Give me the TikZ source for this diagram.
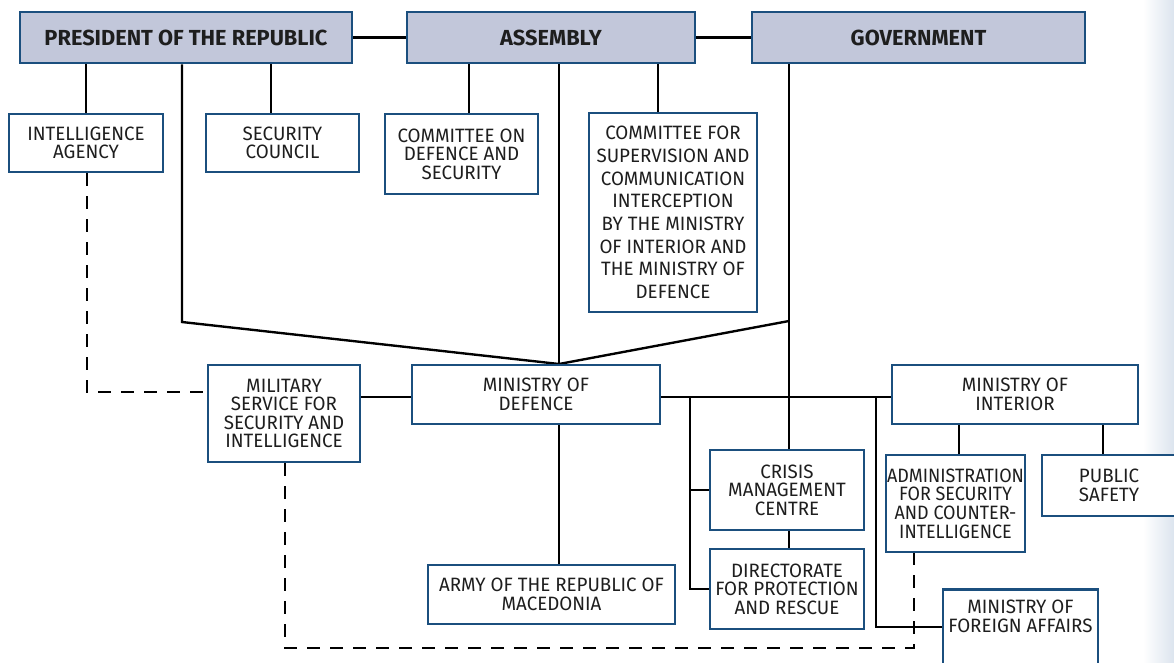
\documentclass[tikz,border=0pt]{standalone}
\usepackage{fontspec}
\setmainfont{Fira Sans}[FakeStretch=0.97]
\newfontfamily\titlefont{Fira Sans}[FakeStretch=1.0]
\newfontfamily\narrowfont{Fira Sans}[FakeStretch=0.93]
\usetikzlibrary{calc}
\pgfdeclarelayer{background}
\pgfsetlayers{background,main}
\definecolor{bordblue}{HTML}{1B4F7E}
\definecolor{topfill}{HTML}{C2C7DA}
\definecolor{txtcol}{HTML}{1E1E1E}
\definecolor{edgegray}{HTML}{DCE4EE}
\begin{document}
\begin{tikzpicture}[x=0.02cm,y=-0.02cm,
  sz/.style 2 args={minimum width=#1*0.02cm, minimum height=#2*0.02cm},
  box/.style={draw=bordblue, line width=1.6pt, fill=white, align=center, inner sep=1pt,
    font=\fontsize{11}{10.6}\selectfont, text=txtcol},
  topbox/.style={box, fill=topfill, font=\titlefont\fontsize{12.4}{13}\selectfont\bfseries},
  txt/.style={align=center, inner sep=0pt, font=\fontsize{11}{10.6}\selectfont, text=txtcol},
  conn/.style={line width=1.35pt, black},
  dconn/.style={conn, dash pattern=on 0.25cm off 0.21cm}]
\useasboundingbox (0,0) rectangle (1174,663);
% boxes
\node[topbox, sz={332}{51}] (pres) at (186,37.5) {PRESIDENT OF THE REPUBLIC};
\node[topbox, sz={288}{51}] (asm) at (551,37.5) {ASSEMBLY};
\node[topbox, sz={333}{51}] (gov) at (918.5,37.5) {GOVERNMENT};
\node[box, sz={154}{58}] (intel) at (86,143) {INTELLIGENCE\\AGENCY};
\node[box, sz={153}{58}] (sec) at (282.5,143) {SECURITY\\COUNCIL};
\node[box, sz={153}{80}] (comdef) at (461.5,154) {COMMITTEE ON\\DEFENCE AND\\SECURITY};
\node[box, sz={168}{199}, font=\fontsize{11}{12.9}\selectfont] (comsup) at (673,212.5)
  {COMMITTEE FOR\\SUPERVISION AND\\COMMUNICATION\\INTERCEPTION\\BY THE MINISTRY\\OF INTERIOR AND\\THE MINISTRY OF\\DEFENCE};
\node[box, sz={152}{97}] (mssi) at (284,413.5) {MILITARY\\SERVICE FOR\\SECURITY AND\\INTELLIGENCE};
\node[box, sz={248}{59}] (mod) at (536,394.5) {MINISTRY OF\\DEFENCE};
\node[box, sz={246}{59}] (moi) at (1015,394.5) {MINISTRY OF\\INTERIOR};
\node[box, sz={154}{80}] (crisis) at (787,490) {CRISIS\\MANAGEMENT\\CENTRE};
\node[box, sz={154}{80}] (dir) at (787,589) {DIRECTORATE\\FOR PROTECTION\\AND RESCUE};
\node[box, sz={139}{97}, inner sep=0pt, font=\narrowfont\fontsize{11}{10.6}\selectfont] (admin) at (955.5,503.5) {ADMINISTRATION\\FOR SECURITY\\AND COUNTER-\\INTELLIGENCE};
\node[box, sz={134}{61}] (pub) at (1109,485.5) {PUBLIC\\SAFETY};
\node[box, sz={247}{59}] (army) at (551.5,594.5) {ARMY OF THE REPUBLIC OF\\MACEDONIA};
\node[box, sz={155}{112}, anchor=north] (mfa) at (1020.5,588) {};
\node[txt] (mfat) at (1020.5,616.5) {MINISTRY OF\\FOREIGN AFFAIRS};
% connectors
\begin{pgfonlayer}{background}
\fill[white] (0,0) rectangle (1174,663);
\shade[left color=white, right color=edgegray] (1143,0) rectangle (1174,663);
\coordinate (jn) at (559,364);
\coordinate (pk) at (182,322);
\coordinate (gk) at (789,321);
\coordinate (b1) at (690,397);
\coordinate (b2) at (876,397);
\draw[conn] (pres.east) -- (asm.west);
\draw[conn] (asm.east) -- (gov.west);
\draw[conn] (pres.south -| intel.north) -- (intel.north);
\draw[conn] (pres.south -| 271,0) -- (sec.north -| 271,0);
\draw[conn] (asm.south -| 469,0) -- (comdef.north -| 469,0);
\draw[conn] (asm.south -| 658,0) -- (comsup.north -| 658,0);
\draw[conn] (pres.south -| pk) -- (pk) -- (jn);
\draw[conn] (asm.south -| jn) -- (jn);
\draw[conn] (gk) -- (jn);
\draw[conn] (gov.south -| gk) -- (crisis.north -| gk);
\draw[conn] (mssi.east |- b1) -- (mod.west |- b1);
\draw[conn] (mod.east |- b1) -- (moi.west |- b1);
\draw[conn] (b1) |- (dir.west);
\draw[conn] (b1 |- crisis.west) -- (crisis.west);
\draw[conn] (b2) |- (mfa.west |- 0,627);
\draw[conn] (crisis.south -| gk) -- (dir.north -| gk);
\draw[conn] (moi.south -| 959,0) -- (admin.north -| 959,0);
\draw[conn] (moi.south -| 1103,0) -- (pub.north -| 1103,0);
\draw[conn] (mod.south -| jn) -- (army.north -| jn);
\draw[dconn] (intel.south -| 87,0) |- (mssi.west |- 0,392);
\draw[dconn] (mssi.south -| 285,0) -- (285,648) -| (admin.south -| 914,0);
\end{pgfonlayer}
\end{tikzpicture}
\end{document}
